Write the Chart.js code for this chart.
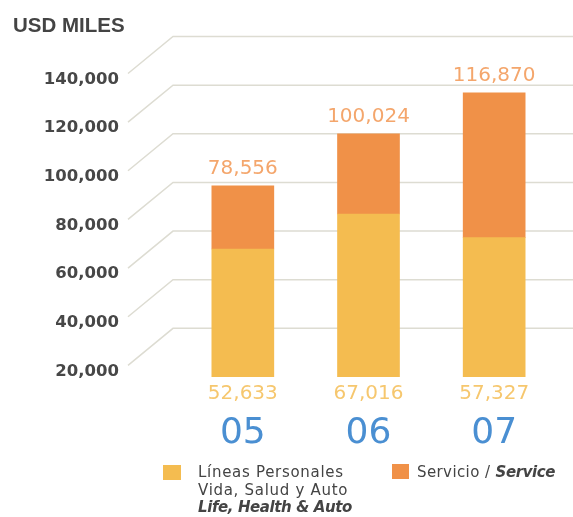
<!DOCTYPE html>
<html>
<head>
<meta charset="utf-8">
<script src="https://cdn.jsdelivr.net/npm/chart.js@4"></script>
<style>
  body { margin: 0; background: #fff; }
  #wrap { position: relative; width: 573px; height: 517px; }
  .item { position: absolute; font-family: 'DejaVu Sans'; font-size: 15px; line-height: 17.5px; color: #444; letter-spacing: 0.7px; }
  .swatch { position: absolute; width: 18px; height: 15px; }
  .item b { font-style: italic; letter-spacing: -0.4px; }
</style>
</head>
<body>
<div id="wrap">
  <canvas id="chart" width="573" height="517"></canvas>
  <div id="legend"></div>
</div>
<script>
// values
const years = ['05', '06', '07'];
const personal = [52633, 67016, 57327];
const service = [25923, 33008, 59543];
const totalLabels = ['78,556', '100,024', '116,870'];
const personalLabels = ['52,633', '67,016', '57,327'];
const yTickValues = [20000, 40000, 60000, 80000, 100000, 120000, 140000];
const yTickLabels = ['20,000', '40,000', '60,000', '80,000', '100,000', '120,000', '140,000'];

const personalName = ['Líneas Personales', 'Vida, Salud y Auto', 'Life, Health & Auto'];
const serviceName = ['Servicio / ', 'Service'];

const colorPersonal = '#F4BC50';
const colorService = '#F09148';

// grid with slanted connectors + value labels
const decor = {
    id: 'decor',
    beforeDatasetsDraw(chart) {
        const ctx = chart.ctx;
        const y = chart.scales.y;
        const left = chart.chartArea.left;
        ctx.save();
        ctx.strokeStyle = '#dddcd2';
        ctx.lineWidth = 1.5;
        for (const v of yTickValues) {
            const py = y.getPixelForValue(v);
            ctx.beginPath();
            ctx.moveTo(left - 52, py + 37);
            ctx.lineTo(left - 7, py);
            ctx.lineTo(chart.width, py);
            ctx.stroke();
        }
        ctx.restore();
    },
    afterDatasetsDraw(chart) {
        const ctx = chart.ctx;
        ctx.save();
        ctx.font = '20px "DejaVu Sans"';
        ctx.textAlign = 'center';
        ctx.textBaseline = 'middle';
        chart.getDatasetMeta(1).data.forEach((el, i) => {
            ctx.fillStyle = '#F4A66C';
            ctx.fillText(totalLabels[i], el.x, el.y - 17);
        });
        chart.getDatasetMeta(0).data.forEach((el, i) => {
            ctx.fillStyle = '#F6C76E';
            ctx.fillText(personalLabels[i], el.x, el.base + 17);
        });
        ctx.restore();
    }
};

new Chart(document.getElementById('chart'), {
    type: 'bar',
    data: {
        labels: years,
        datasets: [{
            label: personalName.join(' '),
            data: personal,
            backgroundColor: colorPersonal,
            barThickness: 62
        }, {
            label: serviceName.join(''),
            data: service,
            backgroundColor: colorService,
            barThickness: 62
        }]
    },
    options: {
        responsive: false,
        animation: false,
        devicePixelRatio: 1,
        layout: { padding: { left: 13, right: 16, top: 0, bottom: 0 } },
        plugins: {
            legend: { display: false },
            tooltip: { enabled: false },
            title: {
                display: true,
                text: 'USD MILES',
                align: 'start',
                color: '#444',
                font: { family: 'Liberation Sans', size: 20.5, weight: 'bold', lineHeight: 1 },
                padding: { top: 16, bottom: 0 }
            }
        },
        scales: {
            x: {
                stacked: true,
                grid: { display: false, drawTicks: false },
                border: { display: false },
                ticks: {
                    color: '#4A8FD2',
                    font: { family: 'DejaVu Sans', size: 36 },
                    padding: 35
                },
                afterFit(scale) { scale.height = 140; }
            },
            y: {
                stacked: true,
                min: 0,
                max: 140000,
                // tick length only used as space between labels and plot
                grid: { display: false, drawTicks: true, tickLength: 55 },
                border: { display: false },
                afterBuildTicks(scale) {
                    scale.ticks = yTickValues.map(v => ({ value: v }));
                },
                ticks: {
                    color: '#474747',
                    font: { family: 'DejaVu Sans', size: 16.5, weight: 'bold' },
                    padding: 6,
                    labelOffset: 43,
                    autoSkip: false,
                    callback: (value, index) => yTickLabels[index]
                },
                afterFit(scale) { scale.width = 167; }
            }
        }
    },
    plugins: [decor]
});

// legend as html so the italic parts stay real text
const legend = document.getElementById('legend');
legend.innerHTML =
    '<div class="swatch" style="left:163px;top:465px;background:' + colorPersonal + '"></div>' +
    '<div class="item" style="left:198px;top:464px">' + personalName[0] + '<br>' + personalName[1] + '<br><b>' + personalName[2] + '</b></div>' +
    '<div class="swatch" style="left:392px;top:464px;width:17px;background:' + colorService + '"></div>' +
    '<div class="item" style="left:417px;top:464px;letter-spacing:0.4px">' + serviceName[0] + '<b>' + serviceName[1] + '</b></div>';
</script>
</body>
</html>
